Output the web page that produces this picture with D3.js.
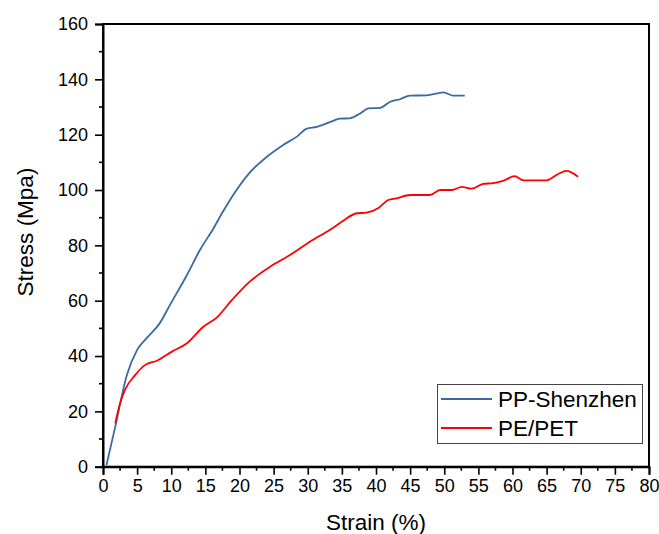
<!DOCTYPE html>
<html>
<head>
<meta charset="utf-8">
<script src="https://cdn.jsdelivr.net/npm/d3@7"></script>
<style>
  body { margin: 0; background: #fff; }
  svg { display: block; font-family: "Liberation Sans", Arial, sans-serif; }
</style>
</head>
<body>
<div id="chart"></div>
<script>
// Stress-strain curves
const ppStrain = [0.5, 1.8, 3.5, 5.0, 6.6, 8.3, 9.8, 12.3, 14.2, 16.2, 17.6, 19.1, 21.5, 24.0, 26.4, 28.4, 29.8, 31.3, 33.5, 34.7, 36.1, 37.7, 38.9, 40.6, 42.1, 43.5, 45.0, 47.4, 49.9, 51.3, 53.0];
const ppStress = [0.5, 14.5, 33.1, 42.2, 47.0, 51.8, 58.4, 69.3, 78.3, 86.2, 92.3, 98.3, 106.3, 112.0, 116.3, 119.3, 122.1, 122.8, 124.8, 125.8, 125.9, 127.7, 129.5, 129.7, 131.9, 132.8, 134.1, 134.2, 135.3, 134.1, 134.1];

const peStrain = [1.8, 2.5, 3.2, 4.7, 6.2, 7.9, 10.1, 12.3, 14.7, 16.7, 18.8, 21.5, 24.5, 27.4, 30.3, 33.5, 35.2, 37.2, 38.6, 40.3, 41.8, 43.0, 45.0, 47.9, 49.4, 51.1, 52.6, 54.0, 55.7, 57.2, 58.7, 60.3, 61.6, 65.0, 66.7, 67.9, 69.6];
const peStress = [15.7, 22.9, 27.7, 33.1, 36.8, 38.3, 41.6, 44.6, 50.6, 54.0, 60.0, 66.9, 72.3, 76.5, 81.3, 86.0, 88.9, 91.6, 91.8, 93.4, 96.4, 97.0, 98.2, 98.2, 100.0, 100.0, 101.1, 100.5, 102.2, 102.5, 103.4, 105.0, 103.5, 103.5, 105.8, 106.9, 104.8];

const seriesNames = ["PP-Shenzhen", "PE/PET"];
const seriesColors = ["#3a6aa3", "#ff0000"];

const xTicks = d3.range(0, 81, 5);
const yTicks = d3.range(0, 161, 20);

const width = 659, height = 534;

const svg = d3.select("#chart").append("svg")
    .attr("width", width)
    .attr("height", height);

const x = d3.scaleLinear().domain([0, 80]).range([103, 649]);
const y = d3.scaleLinear().domain([0, 160]).range([466.7, 24]);

// Curves
const series = [
    ppStrain.map((d, i) => [d, ppStress[i]]),
    peStrain.map((d, i) => [d, peStress[i]])
];

const line = d3.line()
    .x(d => x(d[0]))
    .y(d => y(d[1]))
    .curve(d3.curveMonotoneX);

svg.selectAll(".curve")
    .data(series)
    .enter().append("path")
    .attr("class", "curve")
    .attr("d", line)
    .attr("fill", "none")
    .attr("stroke", (d, i) => seriesColors[i])
    .attr("stroke-width", 1.8)
    .attr("stroke-linejoin", "round");

// Frame (top and right)
svg.append("rect")
    .attr("x", x(0))
    .attr("y", y(160))
    .attr("width", x(80) - x(0))
    .attr("height", y(0) - y(160))
    .attr("fill", "none")
    .attr("stroke", "#000")
    .attr("stroke-width", 2);

// Axes
const xAxis = svg.append("g")
    .attr("transform", `translate(0,${y(0)})`)
    .call(d3.axisBottom(x).tickValues(xTicks).tickSize(8).tickPadding(5).tickFormat(d3.format("d")));

const yAxis = svg.append("g")
    .attr("transform", `translate(${x(0)},0)`)
    .call(d3.axisLeft(y).tickValues(yTicks).tickSize(8).tickPadding(7).tickFormat(d3.format("d")));

[xAxis, yAxis].forEach(g => {
    g.select(".domain").attr("stroke-width", 2);
    g.selectAll(".tick line").attr("stroke-width", 1.6);
    g.selectAll(".tick text")
        .attr("font-size", 18)
        .attr("font-family", "Liberation Sans, Arial, sans-serif")
        .attr("fill", "#000");
});

// Minor ticks
svg.append("g")
    .selectAll("line")
    .data(d3.range(2.5, 80, 5))
    .enter().append("line")
    .attr("x1", d => x(d)).attr("x2", d => x(d))
    .attr("y1", y(0)).attr("y2", y(0) + 4)
    .attr("stroke", "#000").attr("stroke-width", 1.6);

svg.append("g")
    .selectAll("line")
    .data(d3.range(10, 160, 20))
    .enter().append("line")
    .attr("x1", x(0) - 4).attr("x2", x(0))
    .attr("y1", d => y(d)).attr("y2", d => y(d))
    .attr("stroke", "#000").attr("stroke-width", 1.6);

// Axis titles
svg.append("text")
    .attr("x", 376)
    .attr("y", 530)
    .attr("text-anchor", "middle")
    .attr("font-size", 22.5)
    .text("Strain (%)");

svg.append("text")
    .attr("transform", "translate(33,232) rotate(-90)")
    .attr("text-anchor", "middle")
    .attr("font-size", 22.5)
    .text("Stress (Mpa)");

// Legend
const legend = svg.append("g");
legend.append("rect")
    .attr("x", 437.5).attr("y", 384.5)
    .attr("width", 205).attr("height", 59)
    .attr("fill", "#fff")
    .attr("stroke", "#444")
    .attr("stroke-width", 1);

const rows = legend.selectAll(".legend-row")
    .data(seriesNames)
    .enter().append("g")
    .attr("class", "legend-row")
    .attr("transform", (d, i) => `translate(0,${399 + i * 29})`);

rows.append("line")
    .attr("x1", 441).attr("x2", 492)
    .attr("stroke", (d, i) => seriesColors[i])
    .attr("stroke-width", 1.8);

rows.append("text")
    .attr("x", 498)
    .attr("y", 7.5)
    .attr("font-size", 22.5)
    .text(d => d);
</script>
</body>
</html>
